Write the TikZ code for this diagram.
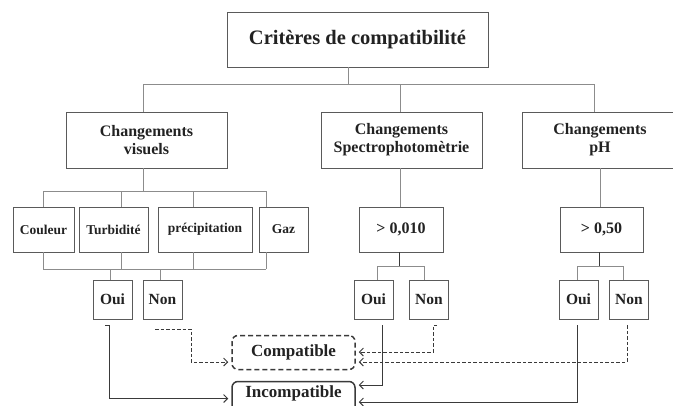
\documentclass[tikz,border=0pt]{standalone}
\usepackage{fontspec}
\setmainfont{Liberation Serif}
\usepackage{tikz}
\usetikzlibrary{arrows,arrows.meta,shapes}
\definecolor{boxgray}{HTML}{5A5A5A}
\definecolor{linkgray}{HTML}{8C8C8C}
\definecolor{arrowgray}{HTML}{3A3A3A}
\definecolor{textgray}{HTML}{222222}
\tikzstyle{box}=[draw=boxgray,line width=0.8pt,rectangle,inner sep=2pt,align=center,text=textgray]
\tikzstyle{head box}=[box,minimum width=261pt,minimum height=55pt,font=\fontsize{20.5}{22}\selectfont\bfseries]
\tikzstyle{family box}=[box,minimum height=56pt,font=\fontsize{16}{18}\selectfont\bfseries]
\tikzstyle{test box}=[box,minimum height=45pt,font=\fontsize{13.5}{15}\selectfont\bfseries]
\tikzstyle{answer box}=[box,minimum width=39pt,minimum height=39pt,font=\fontsize{15.5}{17}\selectfont\bfseries]
\tikzstyle{result box}=[box,draw=arrowgray,line width=1.5pt,rounded corners=6pt,minimum width=123pt,minimum height=34pt,font=\fontsize{17}{19}\selectfont\bfseries]
\tikzstyle{link}=[draw=linkgray,line width=0.8pt]
\tikzstyle{stem}=[draw=arrowgray,line width=1pt]
\tikzstyle{yes edge}=[draw=arrowgray,line width=0.9pt,-{Straight Barb[length=4pt,width=8pt]}]
\tikzstyle{no edge}=[yes edge,dash pattern=on 3.5pt off 2pt]
\begin{document}
\begin{tikzpicture}[x=1pt,y=-1pt]
    \useasboundingbox (0,0) rectangle (673,405);
    \clip (0,0) rectangle (673,405);

    % First we draw the boxes
    \node[head box] (crit) at (357.5,39.5) {Critères de compatibilité};
    \foreach \pos/\w/\name/\txt in {{(146.5,140)/161/vis/{Changements\\visuels}},
        {(401.5,140)/161/spec/{Changements\\Spectrophotomètrie}}, {(600,140)/156/ph/{Changements\\pH}}}
        \node[family box,minimum width=\w pt] (\name) at \pos {\txt};
    \foreach \pos/\w/\name/\txt in {{(43.5,229.5)/61/coul/Couleur}, {(113.5,229.5)/69/turb/Turbidité},
        {(205,229.5)/94/prec/précipitation}, {(283.5,229.5)/49/gaz/Gaz}}
        \node[test box,minimum width=\w pt] (\name) at \pos {\txt};
    \node[test box,minimum width=84pt,font=\fontsize{16}{18}\selectfont\bfseries] (gt1) at (401,229.5) {> 0,010};
    \node[test box,minimum width=83pt,font=\fontsize{16}{18}\selectfont\bfseries] (gt2) at (601.5,229.5) {> 0,50};
    \foreach \pos/\name/\txt in {{(112.5,299.5)/oui1/Oui}, {(162.5,299.5)/non1/Non}, {(373.5,299.5)/oui2/Oui},
        {(429,299.5)/non2/Non}, {(578.5,299.5)/oui3/Oui}, {(629,299.5)/non3/Non}}
        \node[answer box] (\name) at \pos {\txt};
    \node[result box,dash pattern=on 5pt off 3pt] (comp) at (293.5,352.5) {Compatible};
    \node[result box,text height=11.6pt,text depth=13.6pt] (incomp) at (293.5,398.5) {Incompatible};

    % Then the tree lines
    \path[link] (348,84) -- (348,84 |- crit.south);
    \path[link] (143,84) -- (594,84);
    \foreach \x/\dest in {143/vis, 400/spec, 594/ph}
        \path[link] (\x,84) -- (\x,84 |- \dest.north);
    \path[link] (143,191 |- vis.south) -- (143,191);
    \path[link] (43,191) -- (266,191);
    \path[link] (43,269) -- (266,269);
    \foreach \x/\dest in {43/coul, 121/turb, 193/prec, 266/gaz} {
        \path[link] (\x,191) -- (\x,191 |- \dest.north);
        \path[link] (\x,269 |- \dest.south) -- (\x,269);
    }
    \foreach \x/\dest in {110/oui1, 160/non1}
        \path[link] (\x,269) -- (\x,269 |- \dest.north);
    \path[link] (400,0 |- spec.south) -- (400,0 |- gt1.north);
    \path[link] (600,0 |- ph.south) -- (600,0 |- gt2.north);
    \path[stem] (399,266 |- gt1.south) -- (399,266);
    \path[stem] (599,266 |- gt2.south) -- (599,266);
    \path[link] (377,266) -- (424,266);
    \path[link] (577,266) -- (623,266);
    \foreach \x/\dest in {377/oui2, 424/non2, 577/oui3, 623/non3}
        \path[link] (\x,266) -- (\x,266 |- \dest.north);

    % Connect answers with results
    \draw[yes edge] (oui1.south) ++(-7.5,6) -- ++(4.5,0) |- ([xshift=-3pt]incomp.west);
    \draw[no edge] (non1.south) ++(-7.5,10) -- ++(36,0) |- ([xshift=-3pt,yshift=-9.5pt]comp.west);
    \draw[yes edge] (oui2.south) ++(8.5,6) |- ([xshift=3pt,yshift=13.5pt]incomp.east);
    \draw[no edge] (non2.south) ++(8,6) -- ++(-4,0) |- ([xshift=3pt,yshift=0.5pt]comp.east);
    \draw[yes edge] (oui3.south) ++(-1.5,6) |- ([xshift=3pt,yshift=-3.5pt]incomp.east);
    \draw[no edge] (non3.south) ++(-2,6) |- ([xshift=3pt,yshift=-9.5pt]comp.east);
\end{tikzpicture}
\end{document}
